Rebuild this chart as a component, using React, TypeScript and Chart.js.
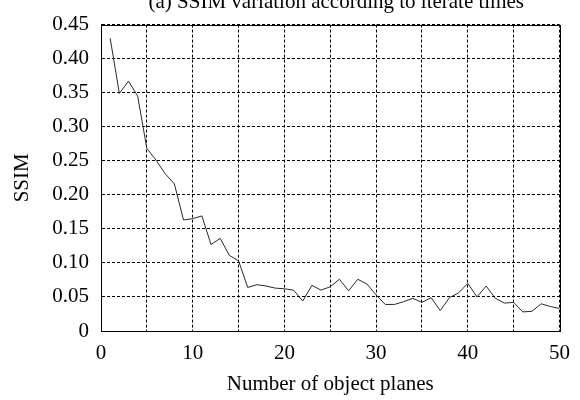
import React, { useEffect, useRef } from "react";
import { Chart, registerables } from "chart.js";

Chart.register(...registerables);

const planes: number[] = [
  1, 2, 3, 4, 5, 6, 7, 8, 9, 10, 11, 12, 13, 14, 15, 16, 17, 18, 19, 20, 21, 22, 23, 24, 25,
  26, 27, 28, 29, 30, 31, 32, 33, 34, 35, 36, 37, 38, 39, 40, 41, 42, 43, 44, 45, 46, 47, 48, 49, 50,
];
const ssim: number[] = [
  0.43, 0.349, 0.367, 0.345, 0.268, 0.251, 0.231, 0.216, 0.163, 0.165,
  0.169, 0.127, 0.136, 0.111, 0.103, 0.064, 0.068, 0.066, 0.063, 0.062,
  0.06, 0.044, 0.067, 0.06, 0.065, 0.076, 0.059, 0.076, 0.069, 0.053,
  0.039, 0.039, 0.043, 0.048, 0.042, 0.049, 0.03, 0.049, 0.056, 0.07,
  0.05, 0.066, 0.048, 0.041, 0.042, 0.028, 0.029, 0.04, 0.036, 0.033,
];
const chartTitle = "(a) SSIM variation according to iterate times";
const xTitle = "Number of object planes";
const yTitle = "SSIM";

const FONT = "'Liberation Serif', 'Times New Roman', serif";

const framePlugin = {
  id: "frameAndTitle",
  afterDraw(chart: any) {
    const { ctx, chartArea } = chart;
    ctx.save();
    ctx.strokeStyle = "#000";
    ctx.lineWidth = 1;
    ctx.setLineDash([]);
    ctx.strokeRect(
      Math.round(chartArea.left) + 0.5,
      Math.round(chartArea.top) + 0.5,
      Math.round(chartArea.right - chartArea.left),
      Math.round(chartArea.bottom - chartArea.top)
    );
    ctx.fillStyle = "#000";
    ctx.font = `21px ${FONT}`;
    ctx.textAlign = "center";
    ctx.textBaseline = "alphabetic";
    ctx.fillText(chartTitle, (chartArea.left + chartArea.right) / 2 + 6, 8);
    ctx.restore();
  },
};

export default function App() {
  const ref = useRef<HTMLCanvasElement>(null);
  useEffect(() => {
    if (!ref.current) return;
    const chart = new Chart(ref.current, {
      type: "line",
      data: {
        datasets: [
          {
            data: planes.map((p, i) => ({ x: p, y: ssim[i] })),
            borderColor: "#2a2a2a",
            borderWidth: 1,
            pointRadius: 0,
            tension: 0,
            fill: false,
          },
        ],
      },
      options: {
        responsive: false,
        animation: false,
        layout: { padding: { left: 0, right: 16, top: 17, bottom: 0 } },
        plugins: { legend: { display: false }, tooltip: { enabled: false }, title: { display: false } },
        scales: {
          x: {
            type: "linear",
            min: 0,
            max: 50,
            afterFit: (s: any) => {
              s.height = 69;
            },
            ticks: {
              stepSize: 5,
              autoSkip: false,
              maxRotation: 0,
              padding: 10,
              color: "#000",
              font: { family: FONT, size: 21 },
              callback: (v: any) => (Number(v) % 10 === 0 ? String(v) : ""),
            },
            grid: {
              color: "#000",
              lineWidth: 1,
              drawTicks: false,
            },
            border: { display: true, color: "#000", width: 1, dash: [3, 2] },
            title: {
              display: true,
              text: xTitle,
              color: "#000",
              font: { family: FONT, size: 21 },
              padding: { top: 0, bottom: 3 },
            },
          },
          y: {
            min: 0,
            max: 0.45,
            afterFit: (s: any) => {
              s.width = 101;
            },
            ticks: {
              stepSize: 0.05,
              padding: 12,
              color: "#000",
              font: { family: FONT, size: 21 },
              callback: (v: any) => (Number(v) === 0 ? "0" : Number(v).toFixed(2)),
            },
            grid: {
              color: "#000",
              lineWidth: 1,
              drawTicks: false,
            },
            border: { display: true, color: "#000", width: 1, dash: [3, 2] },
            title: {
              display: true,
              text: yTitle,
              color: "#000",
              font: { family: FONT, size: 21 },
              padding: { top: 10, bottom: 0 },
            },
          },
        },
      },
      plugins: [framePlugin],
    });
    return () => chart.destroy();
  }, []);
  return (
    <div style={{ position: "fixed", left: 0, top: 0, width: 580, height: 400, background: "#fff" }}>
      <canvas ref={ref} width={580} height={400} />
    </div>
  );
}
